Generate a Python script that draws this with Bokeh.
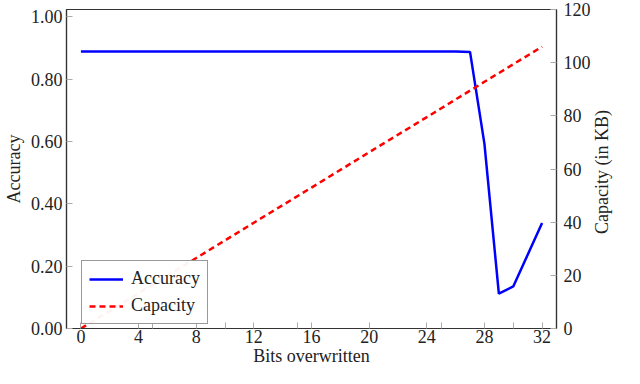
import math
from bokeh.plotting import figure
from bokeh.models import Range1d, LinearAxis, FixedTicker, PrintfTickFormatter, Legend, LegendItem
from bokeh.embed import file_html
from bokeh.resources import INLINE

# Data
acc_bits = [0, 4, 8, 12, 16, 20, 24, 25, 26, 27, 28, 29, 30, 32]
accuracy = [0.888, 0.888, 0.888, 0.888, 0.888, 0.888, 0.888, 0.888, 0.888, 0.887, 0.592, 0.112, 0.135, 0.338]
cap_bits = [0, 4, 8, 12, 16, 20, 24, 28, 32]
capacity = [0.0, 13.3, 26.5, 39.8, 53.0, 66.3, 79.5, 92.8, 106.0]
x_ticks = [0, 4, 5, 8, 10, 12, 15, 16, 20, 24, 25, 28, 30, 32]
acc_ticks = [0.0, 0.2, 0.4, 0.6, 0.8, 1.0]
cap_ticks = [0, 20, 40, 60, 80, 100, 120]

FONT = "'Liberation Serif'"

p = figure(width=624, height=368, output_backend="svg", toolbar_location=None,
           x_range=Range1d(-1.0, 33.0), y_range=Range1d(0, 1.023),
           min_border_left=0, min_border_right=0, min_border_top=9, min_border_bottom=0)
p.extra_y_ranges = {"cap": Range1d(0, 120)}
p.grid.visible = False
p.outline_line_color = "#333333"
p.outline_line_width = 1.2
p.background_fill_color = "white"

l1 = p.line(acc_bits, accuracy, line_color="blue", line_width=2.5)
l2 = p.line(cap_bits, capacity, line_color="red", line_width=2.5, line_dash="6 4", y_range_name="cap")

def style_axis(ax):
    ax.major_tick_in = 6
    ax.major_tick_out = 0
    ax.minor_tick_line_color = None
    ax.major_tick_line_color = "#aaaaaa"
    ax.axis_line_color = "#333333"
    ax.axis_line_width = 1.2
    ax.major_label_text_font = FONT
    ax.major_label_text_font_size = "18px"
    ax.major_label_text_color = "#222222"
    ax.major_label_standoff = 4
    ax.axis_label_text_font = FONT
    ax.axis_label_text_font_size = "18px"
    ax.axis_label_text_font_style = "normal"
    ax.axis_label_text_color = "#222222"

xa = p.xaxis[0]
xa.ticker = FixedTicker(ticks=x_ticks)
xa.major_label_overrides = {5: "", 10: "", 15: "", 25: "", 30: ""}
xa.axis_label = "Bits overwritten"
xa.axis_label_standoff = 0
style_axis(xa)
xa.major_label_standoff = 1

ya = p.yaxis[0]
ya.ticker = FixedTicker(ticks=acc_ticks)
ya.formatter = PrintfTickFormatter(format="%.2f")
ya.axis_label = "Accuracy"
ya.axis_label_standoff = 4
style_axis(ya)

ra = LinearAxis(y_range_name="cap", ticker=FixedTicker(ticks=cap_ticks))
style_axis(ra)
ra.major_label_standoff = 7
p.add_layout(ra, "right")

# label-only axis so that the title reads bottom-to-top
cap_title = "Capacity (in KB)"
ra2 = LinearAxis(y_range_name="cap", ticker=FixedTicker(ticks=[]))
style_axis(ra2)
ra2.axis_line_color = None
ra2.major_tick_line_color = None
ra2.major_label_text_font_size = "0px"
ra2.axis_label_orientation = math.pi / 2
ra2.axis_label_standoff = 8
if "axis_label_align" in ra2.properties():
    ra2.axis_label_align = "start"
    ra2.axis_label = "\u00a0" * 21 + cap_title
else:
    ra2.axis_label = cap_title
p.add_layout(ra2, "right")

legend = Legend(items=[LegendItem(label="Accuracy", renderers=[l1]),
                       LegendItem(label="Capacity", renderers=[l2])],
                location=(15, 4))
legend.label_text_font = FONT
legend.label_text_font_size = "18px"
legend.label_text_color = "#222222"
legend.border_line_color = "#333333"
legend.border_line_width = 1
legend.glyph_width = 34
legend.glyph_height = 18
legend.label_height = 18
legend.spacing = 6
legend.padding = 7
legend.margin = 0
legend.label_standoff = 8
p.add_layout(legend)

open("out.html", "w").write(file_html(p, INLINE))
